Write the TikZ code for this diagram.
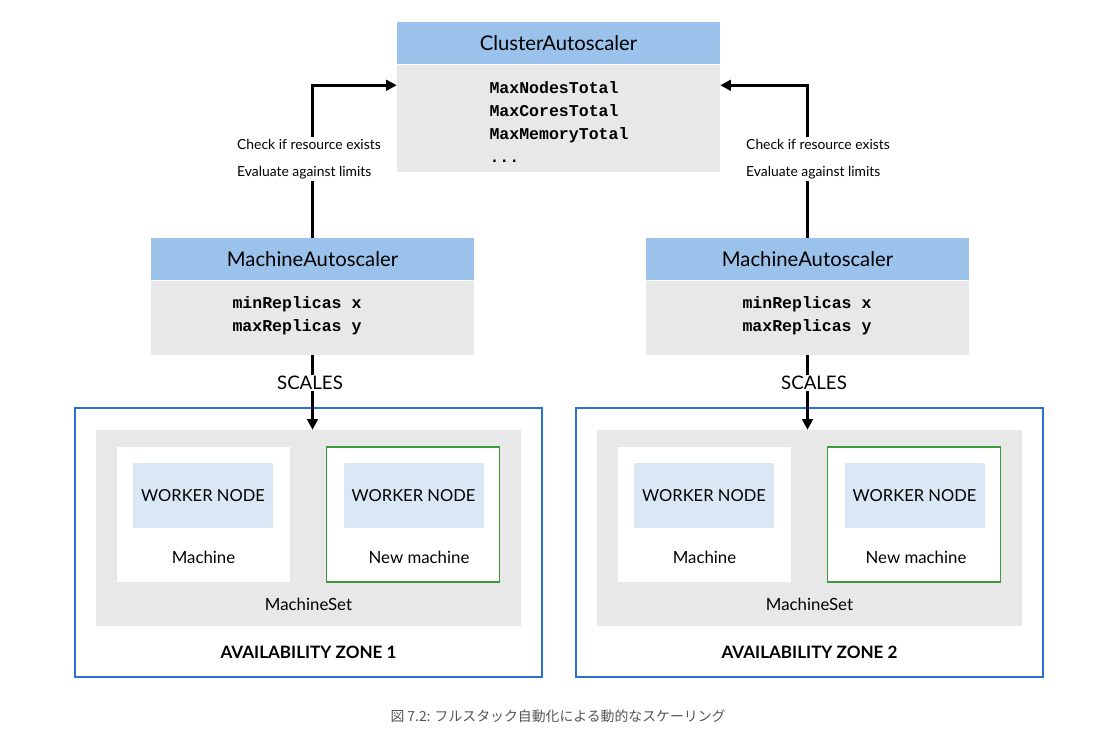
\documentclass[tikz,border=0pt]{standalone}
\usepackage{fontspec}
\setmainfont{Lato}
\setmonofont{Liberation Mono}
\newfontfamily\cjkfont{Noto Sans CJK JP}
\usepackage{xcolor}
\usepackage{tikz}
\usetikzlibrary{positioning,arrows.meta,calc}

\definecolor{headblue}{HTML}{9AC2EA}
\definecolor{bodygray}{HTML}{E8E8E8}
\definecolor{workerblue}{HTML}{DAE7F5}
\definecolor{zoneblue}{HTML}{2B70D0}
\definecolor{newgreen}{HTML}{3C9A3C}
\definecolor{capgray}{HTML}{555555}

\begin{document}
\begin{tikzpicture}[x=0.75pt, y=-0.75pt,
  head/.style={rectangle, fill=headblue, inner sep=0pt, minimum width=242.25pt,
               minimum height=31.5pt, font=\fontsize{15.2}{18}\selectfont},
  body/.style={rectangle, fill=bodygray, inner sep=0pt, minimum width=242.25pt},
  code/.style={align=left, font=\ttfamily\bfseries\fontsize{12.4}{17.25}\selectfont},
  zone/.style={rectangle, draw=zoneblue, line width=0.9pt, inner sep=0pt,
               minimum width=350.25pt, minimum height=201.75pt},
  mset/.style={rectangle, fill=bodygray, inner sep=0pt,
               minimum width=318.75pt, minimum height=147pt},
  machine/.style={rectangle, fill=white, inner sep=0pt,
                  minimum width=129.75pt, minimum height=101.25pt},
  worker/.style={rectangle, fill=workerblue, inner sep=0pt,
                 minimum width=105pt, minimum height=48.75pt, font=\fontsize{12.4}{14}\selectfont},
  lbl/.style={font=\fontsize{12.6}{15}\selectfont},
  note/.style={fill=white, align=left, inner sep=2pt, font=\fontsize{10.4}{20}\selectfont},
  arr/.style={-{Triangle[width=8pt,length=8pt]}, line width=2pt}
]
\useasboundingbox (0,0) rectangle (1114,736);

% cluster autoscaler
\node[head] (cashead) at (558.5,43) {ClusterAutoscaler};
\node[body, minimum height=80.25pt, below=0pt of cashead] (casbody) {};
\node[code] (caslimits) at (559,122) {MaxNodesTotal\\MaxCoresTotal\\MaxMemoryTotal\\...};

% machine autoscalers
\node[head] (mas1head) at (312.5,259) {MachineAutoscaler};
\node[body, minimum height=55.5pt, below=0pt of mas1head] (mas1body) {};
\node[code] (mas1rep) at (297,316) {minReplicas x\\maxReplicas y};

\node[head] (mas2head) at (807.5,259) {MachineAutoscaler};
\node[body, minimum height=55.5pt, below=0pt of mas2head] (mas2body) {};
\node[code] (mas2rep) at (807,316) {minReplicas x\\maxReplicas y};

% availability zone 1
\node[zone] (zone1) at (308.5,542.5) {};
\node[mset] (mset1) at (308.5,528) {};
\node[machine] (mach1) at (203.5,514.5) {};
\node[machine, draw=newgreen, line width=0.8pt] (new1) at (413,514.5) {};
\node[worker] (wk1) at (203,495.5) {WORKER NODE};
\node[worker] (wk1b) at (413.5,495.5) {WORKER NODE};
\node[lbl] (mach1lbl) at (203.5,557) {Machine};
\node[lbl] (new1lbl) at (419,557) {New machine};
\node[lbl] (mset1lbl) at (308.5,604) {MachineSet};
\node[font=\bfseries\fontsize{12.8}{15}\selectfont] (zone1lbl) at (308.5,652) {AVAILABILITY ZONE 1};

% availability zone 2
\node[zone] (zone2) at (809.5,542.5) {};
\node[mset] (mset2) at (809.5,528) {};
\node[machine] (mach2) at (704.5,514.5) {};
\node[machine, draw=newgreen, line width=0.8pt] (new2) at (914,514.5) {};
\node[worker] (wk2) at (704,495.5) {WORKER NODE};
\node[worker] (wk2b) at (914.5,495.5) {WORKER NODE};
\node[lbl] (mach2lbl) at (704.5,557) {Machine};
\node[lbl] (new2lbl) at (916,557) {New machine};
\node[lbl] (mset2lbl) at (809.5,604) {MachineSet};
\node[font=\bfseries\fontsize{12.8}{15}\selectfont] (zone2lbl) at (809.5,652) {AVAILABILITY ZONE 2};

% connectors
\draw[arr] (mas1head.north) |- ([yshift=-15.75pt]casbody.north west);
\draw[arr] (mas2head.north) |- ([yshift=-15.75pt]casbody.north east);
\node[note] (check1) at (309,159) {Check if resource exists\\Evaluate against limits};
\node[note] (check2) at (818,159) {Check if resource exists\\Evaluate against limits};

\draw[arr] (mas1body.south) -- (mas1body.south |- mset1.north);
\draw[arr] (mas2body.south) -- (mas2body.south |- mset2.north);
\node[lbl, fill=white, inner sep=1pt, font=\fontsize{14}{16}\selectfont] (scales1) at (310,383) {SCALES};
\node[lbl, fill=white, inner sep=1pt, font=\fontsize{14}{16}\selectfont] (scales2) at (814,383) {SCALES};

% caption
\node[text=capgray, font=\cjkfont\fontsize{10.4}{12}\selectfont] (caption) at (558,716)
  {図 7.2: フルスタック自動化による動的なスケーリング};

\end{tikzpicture}
\end{document}
